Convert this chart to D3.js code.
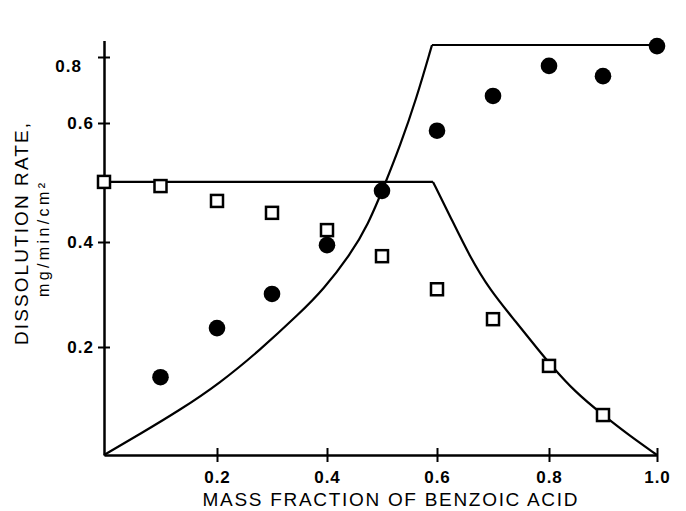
<!DOCTYPE html>
<html>
<head>
<meta charset="utf-8">
<script src="https://cdn.jsdelivr.net/npm/d3@7"></script>
<style>
  body { margin: 0; background: #fff; }
  .tick text { font-family: "Liberation Sans", Arial, sans-serif; font-weight: bold; font-size: 17px; letter-spacing: 1px; fill: #000; }
  .title { font-family: "Liberation Sans", Arial, sans-serif; fill: #000; }
</style>
</head>
<body>
<div id="chart"></div>
<script>
// measured points (benzoic acid = filled circles, salicylic acid = open squares)
const circleFraction = [0.1, 0.2, 0.3, 0.4, 0.5, 0.6, 0.7, 0.8, 0.9, 1.0];
const circleRate = [0.144, 0.236, 0.301, 0.394, 0.486, 0.587, 0.682, 0.773, 0.742, 0.833];

const squareFraction = [0.0, 0.1, 0.2, 0.3, 0.4, 0.5, 0.6, 0.7, 0.8, 0.9];
const squareRate = [0.501, 0.494, 0.469, 0.449, 0.420, 0.373, 0.310, 0.253, 0.165, 0.074];

// predicted curves
const risingX = [0, 0.0637, 0.1345, 0.2055, 0.2782, 0.3509, 0.3927, 0.4418, 0.4745, 0.5055, 0.5327, 0.5618, 0.5909];
const risingY = [0, 0.0389, 0.0833, 0.1333, 0.1944, 0.2648, 0.3086, 0.3752, 0.4286, 0.4975, 0.5613, 0.6697, 0.8364];
const risingPlateauX = [0.5909, 1.0];
const risingPlateauY = [0.8364, 0.8364];

const fallingPlateauX = [0, 0.5927];
const fallingPlateauY = [0.501, 0.501];
const fallingX = [0.5927, 0.6232, 0.6589, 0.6946, 0.7393, 0.7839, 0.8019, 0.8481, 0.9, 0.95, 1.0];
const fallingY = [0.501, 0.4437, 0.3714, 0.3086, 0.25, 0.1907, 0.1685, 0.1167, 0.0741, 0.0352, 0];

const xTicks = [0.2, 0.4, 0.6, 0.8, 1.0];
const yTicks = [0.2, 0.4, 0.6, 0.8];

const width = 686, height = 511;

const svg = d3.select("#chart").append("svg")
    .attr("width", width)
    .attr("height", height)
    .style("display", "block");

svg.append("rect").attr("width", width).attr("height", height).attr("fill", "#fff");

// the printed axes are not quite uniform, so use piecewise scales through the tick marks
const x = d3.scaleLinear()
    .domain([0, 0.2, 0.4, 0.6, 0.8, 1.0])
    .range([104, 217, 327, 437, 549, 657]);

const y = d3.scaleLinear()
    .domain([0, 0.2, 0.4, 0.6, 0.8, 0.85])
    .range([455, 347, 242, 123, 57, 40.5]);

// x axis
const xAxis = svg.append("g")
    .attr("transform", `translate(0,${y(0)})`)
    .call(d3.axisBottom(x).tickValues(xTicks).tickFormat(d3.format(".1f")).tickSize(7).tickSizeOuter(0));
xAxis.selectAll(".tick line").attr("y1", -7).attr("y2", 7).attr("stroke-width", 2);
xAxis.selectAll(".tick text").attr("y", 16);

// y axis
const yAxis = svg.append("g")
    .attr("transform", `translate(${x(0)},0)`)
    .call(d3.axisLeft(y).tickValues(yTicks).tickFormat(d3.format(".1f")).tickSize(6).tickSizeOuter(0));
yAxis.selectAll(".tick line").attr("x1", 6).attr("x2", -6).attr("stroke-width", 2);
yAxis.selectAll(".tick text").attr("x", -10);
// top label sits a bit off its tick in the print
yAxis.selectAll(".tick text").filter(d => d === 0.8).attr("x", -22).attr("dy", "0.85em");

svg.selectAll(".domain").attr("stroke", "#000").attr("stroke-width", 2.5);

// curves
const smooth = d3.line().x(d => x(d[0])).y(d => y(d[1])).curve(d3.curveBasis);
const straight = d3.line().x(d => x(d[0])).y(d => y(d[1]));

const zip = (a, b) => a.map((v, i) => [v, b[i]]);

svg.append("path").datum(zip(risingX, risingY))
    .attr("d", smooth).attr("fill", "none").attr("stroke", "#000").attr("stroke-width", 2.2);
svg.append("path").datum(zip(risingPlateauX, risingPlateauY))
    .attr("d", straight).attr("fill", "none").attr("stroke", "#000").attr("stroke-width", 2.2);
svg.append("path").datum(zip(fallingPlateauX, fallingPlateauY))
    .attr("d", straight).attr("fill", "none").attr("stroke", "#000").attr("stroke-width", 2.2);
svg.append("path").datum(zip(fallingX, fallingY))
    .attr("d", smooth).attr("fill", "none").attr("stroke", "#000").attr("stroke-width", 2.2);

// squares
const sq = 12;
svg.selectAll(".sq").data(zip(squareFraction, squareRate)).enter().append("rect")
    .attr("class", "sq")
    .attr("x", d => x(d[0]) - sq / 2)
    .attr("y", d => y(d[1]) - sq / 2)
    .attr("width", sq).attr("height", sq)
    .attr("fill", "#fff").attr("stroke", "#000").attr("stroke-width", 2.5);

// circles
svg.selectAll(".dot").data(zip(circleFraction, circleRate)).enter().append("circle")
    .attr("class", "dot")
    .attr("cx", d => x(d[0]))
    .attr("cy", d => y(d[1]))
    .attr("r", 8.3)
    .attr("fill", "#000");

// axis titles
svg.append("text").attr("class", "title")
    .attr("x", 390).attr("y", 506)
    .attr("text-anchor", "middle")
    .attr("font-size", 19)
    .attr("textLength", 375).attr("lengthAdjust", "spacing")
    .text("MASS FRACTION OF BENZOIC ACID");

svg.append("text").attr("class", "title")
    .attr("transform", "translate(28,234) rotate(-90)")
    .attr("text-anchor", "middle")
    .attr("font-size", 19)
    .attr("textLength", 222).attr("lengthAdjust", "spacing")
    .text("DISSOLUTION RATE,");

svg.append("text").attr("class", "title")
    .attr("transform", "translate(49,240) rotate(-90)")
    .attr("text-anchor", "middle")
    .attr("font-size", 16)
    .attr("textLength", 114).attr("lengthAdjust", "spacing")
    .text("mg/min/cm²");
</script>
</body>
</html>
